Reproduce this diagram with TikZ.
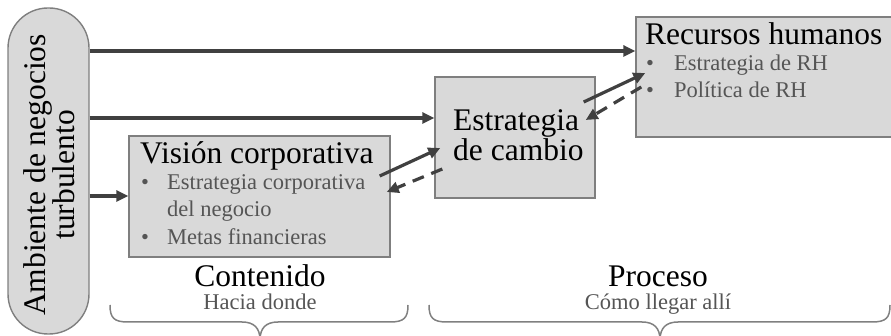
\documentclass[tikz,border=0pt]{standalone}
\usepackage{fontspec}
\setmainfont{Liberation Serif}
\usetikzlibrary{arrows.meta,calc}
\definecolor{linec}{HTML}{404040}
\definecolor{boxfill}{HTML}{D9D9D9}
\definecolor{boxdraw}{HTML}{7F7F7F}
\definecolor{subc}{HTML}{555555}
\definecolor{bracec}{HTML}{808080}
\newcommand\mytitle{\fontsize{31.5}{29}\selectfont}
\newcommand\mysub{\fontsize{22.5}{27.5}\selectfont}
\tikzset{
  box/.style={draw=boxdraw, fill=boxfill, line width=1.4pt, inner sep=0pt},
  ttl/.style={font=\mytitle, text=black, inner sep=0pt, anchor=base west},
  sub/.style={font=\mysub, text=subc, inner sep=0pt, anchor=base west},
  lbl/.style={font=\mytitle, text=black, inner sep=0pt, anchor=base},
  sublbl/.style={font=\mysub, text=subc, inner sep=0pt, anchor=base},
  arr/.style={draw=linec, line width=3.2pt, -{Triangle[length=12pt,width=11pt]}},
  darr/.style={arr, dash pattern=on 12pt off 8pt},
  brace/.style={draw=bracec, line width=1.5pt}
}
\begin{document}
\begin{tikzpicture}[x=1pt,y=-1pt]
\useasboundingbox (0,0) rectangle (891,336);
% left pill
\node[box, rounded corners=40pt, minimum width=81pt, minimum height=326pt] (env) at (48.5,171) {};
\node[rotate=90, align=center, font=\mytitle, inner sep=0pt] (envt) at (49,175) {Ambiente de negocios\\turbulento};
% boxes
\node[box, minimum width=261pt, minimum height=121pt] (vis) at (259.5,196.5) {};
\node[box, minimum width=160pt, minimum height=121pt] (est) at (515,137.5) {};
\node[box, minimum width=257pt, minimum height=120pt] (rh) at (764.5,77) {};
% vision text
\node[ttl] (vist) at (140,164) {Visión corporativa};
\node[sub] (vb1) at (141,190) {•};
\node[sub] (vs1) at (167,190) {Estrategia corporativa};
\node[sub] (vs2) at (167,217) {del negocio};
\node[sub] (vb2) at (141,245) {•};
\node[sub] (vs3) at (167,245) {Metas financieras};
% estrategia text
\node[ttl] (estt1) at (453,131) {Estrategia};
\node[ttl] (estt2) at (453,161) {de cambio};
% RH text
\node[ttl] (rht) at (645,45) {Recursos humanos};
\node[sub] (rb1) at (646,71) {•};
\node[sub] (rs1) at (674,71) {Estrategia de RH};
\node[sub] (rb2) at (646,98) {•};
\node[sub] (rs2) at (674,98) {Política de RH};
% bottom labels
\node[lbl] (cont) at (260,287) {Contenido};
\node[sublbl] (hacia) at (260,310) {Hacia donde};
\node[lbl] (proc) at (658,287) {Proceso};
\node[sublbl] (como) at (658,310) {Cómo llegar allí};
% horizontal arrows
\draw[arr] (env.east |- 0,51) -- (rh.west |- 0,51);
\draw[arr] (env.east |- 0,118) -- (est.west |- 0,118);
\draw[arr] (env.east |- 0,196) -- (vis.west |- 0,196);
% diagonal arrows
\draw[arr] ($(vis.east)+(-11,-20.5)$) -- ($(est.west)+(6,10.5)$);
\draw[darr] ($(est.west)+(8,31.5)$) -- ($(vis.east)+(-4,-4.5)$);
\draw[arr] ($(est.east)+(-12,-35.5)$) -- ($(rh.west)+(10,-4)$);
\draw[darr] ($(rh.west)+(6,10)$) -- ($(est.east)+(-10,-17.5)$);
% braces
\draw[brace] (110,305) .. controls (110,318) and (114,322) .. (128,322) -- (242,322)
  .. controls (254,322) and (260,328) .. (260,340)
  .. controls (260,328) and (266,322) .. (278,322) -- (390,322)
  .. controls (404,322) and (408,318) .. (408,305);
\draw[brace] (429,305) .. controls (429,318) and (433,322) .. (447,322) -- (642,322)
  .. controls (654,322) and (660,328) .. (660,340)
  .. controls (660,328) and (666,322) .. (678,322) -- (872,322)
  .. controls (886,322) and (890,318) .. (890,305);
\end{tikzpicture}
\end{document}
